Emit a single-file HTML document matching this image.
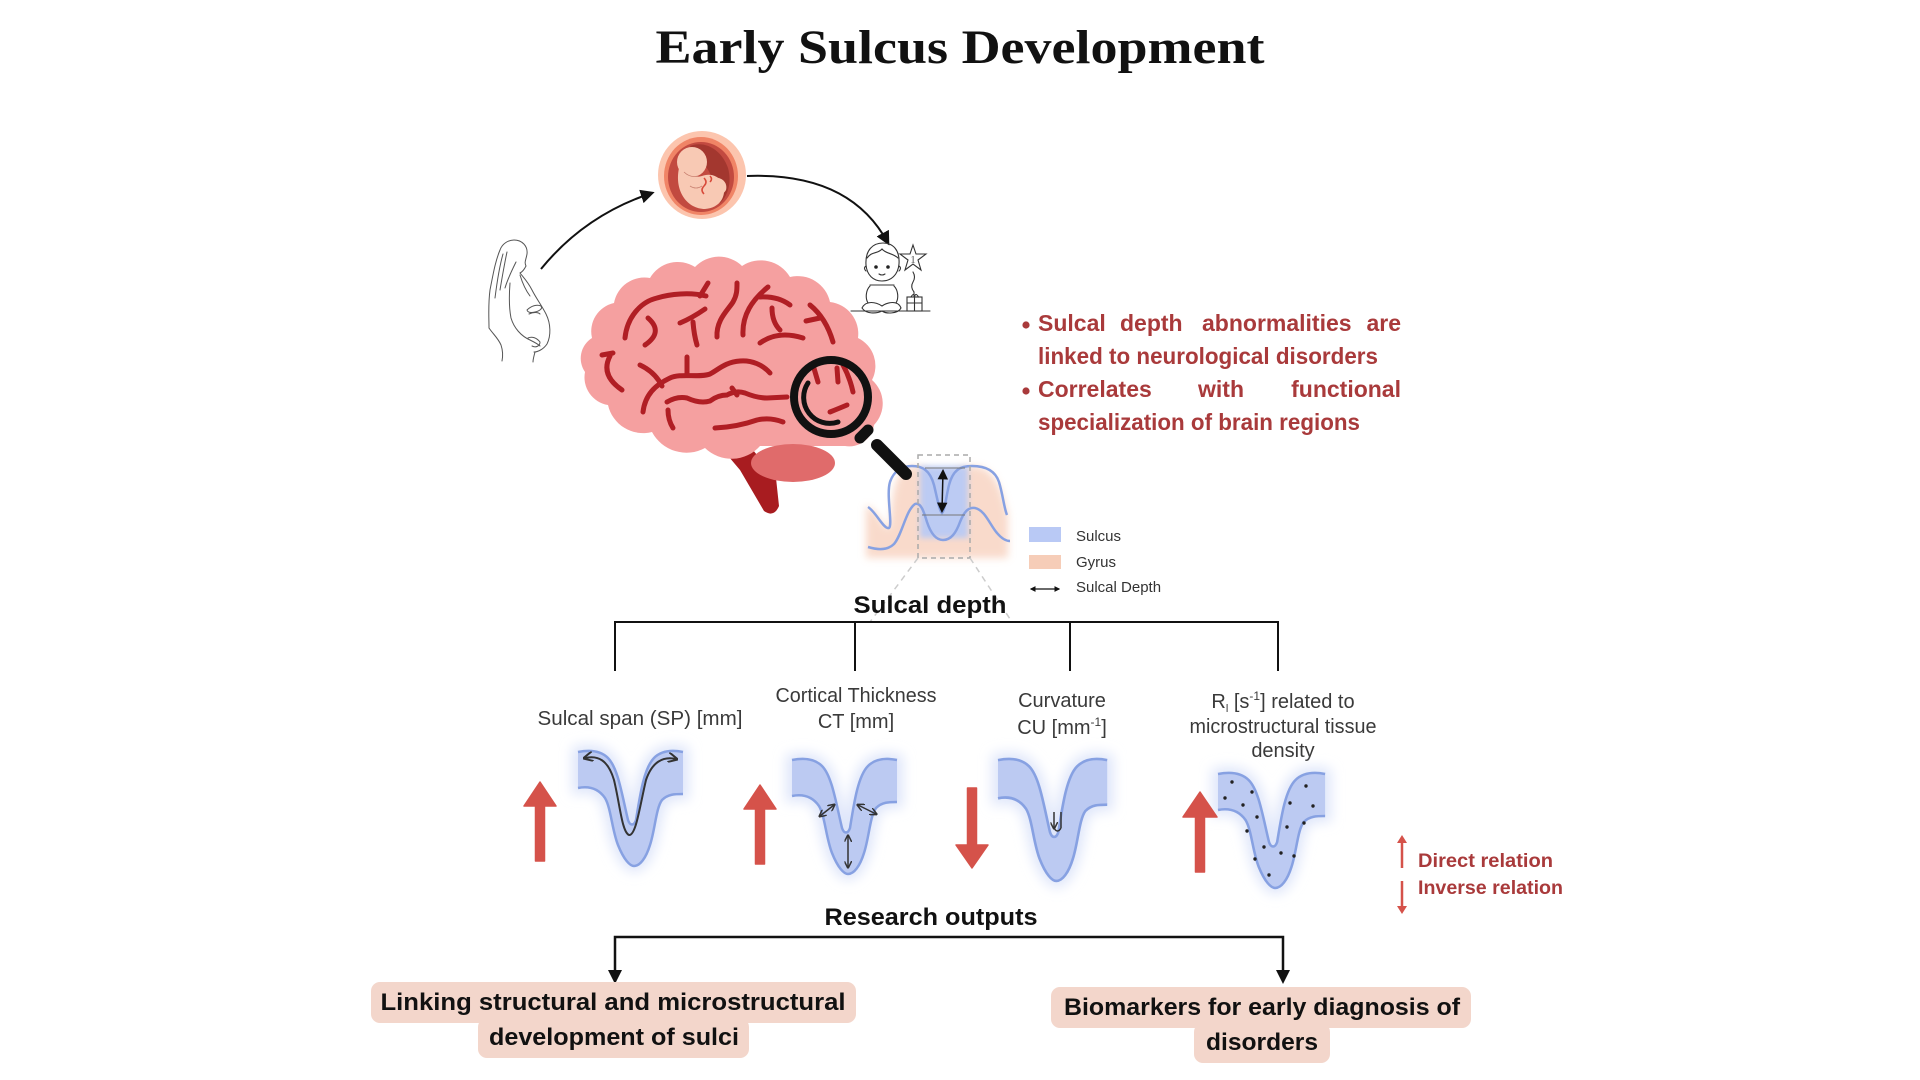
<!DOCTYPE html>
<html>
<head>
<meta charset="utf-8">
<style>
  html,body{margin:0;padding:0;background:#fff;}
  svg{display:block;}
  .lbl{font-family:"Liberation Sans",Arial,sans-serif;fill:#3a3a3a;font-size:20px;}
  .bold{font-family:"Liberation Sans",Arial,sans-serif;font-weight:bold;fill:#111;}
  .red{font-family:"Liberation Sans",Arial,sans-serif;font-weight:bold;fill:#a93a3b;}
  .lg{font-family:"Liberation Sans",Arial,sans-serif;fill:#333;font-size:15px;}
</style>
</head>
<body>
<svg width="1920" height="1080" viewBox="0 0 1920 1080" xmlns="http://www.w3.org/2000/svg">
  <defs>
    <marker id="ah" viewBox="0 0 10 10" refX="8" refY="5" markerWidth="7" markerHeight="7" orient="auto-start-reverse">
      <path d="M0,0 L10,5 L0,10 Z" fill="#111"/>
    </marker>
    <marker id="ah2" viewBox="0 0 10 10" refX="8" refY="5" markerWidth="4.5" markerHeight="4.5" orient="auto-start-reverse">
      <path d="M0,0 L10,5 L0,10 Z" fill="#111"/>
    </marker>
    <marker id="sm" viewBox="0 0 10 10" refX="8" refY="5" markerWidth="5" markerHeight="5" orient="auto-start-reverse">
      <path d="M0,0 L10,5 L0,10" fill="none" stroke="#333" stroke-width="2"/>
    </marker>
    <filter id="blur6" x="-30%" y="-30%" width="160%" height="160%"><feGaussianBlur stdDeviation="6"/></filter>
    <filter id="blur4" x="-30%" y="-30%" width="160%" height="160%"><feGaussianBlur stdDeviation="4"/></filter>
    <filter id="blur3" x="-30%" y="-30%" width="160%" height="160%"><feGaussianBlur stdDeviation="3"/></filter>
    <g id="sulc">
      <path d="M0,2 C10,0 22,0 30,8 C40,18 44,45 50,70 C52,76 56,76 58,70 C62,45 66,18 76,8 C84,0 95,0 105,2 L105,44 C97,44 90,44 84,50 C78,58 77,80 72,95 C68,108 62,116 56,116 C52,116 46,110 40,95 C34,80 33,58 27,48 C20,38 10,36 0,38 Z" fill="#dfe6fa" stroke="#dfe6fa" stroke-width="12" filter="url(#blur6)"/>
      <path d="M0,2 C10,0 22,0 30,8 C40,18 44,45 50,70 C52,76 56,76 58,70 C62,45 66,18 76,8 C84,0 95,0 105,2 L105,44 C97,44 90,44 84,50 C78,58 77,80 72,95 C68,108 62,116 56,116 C52,116 46,110 40,95 C34,80 33,58 27,48 C20,38 10,36 0,38 Z" fill="#bccaf2"/>
      <path d="M0,2 C10,0 22,0 30,8 C40,18 44,45 50,70 C52,76 56,76 58,70 C62,45 66,18 76,8 C84,0 95,0 105,2" fill="none" stroke="#87a1e2" stroke-width="2.5"/>
      <path d="M0,38 C10,36 20,38 27,48 C33,58 34,80 40,95 C46,110 52,116 56,116 C62,116 68,108 72,95 C77,80 78,58 84,50 C90,44 97,44 105,44" fill="none" stroke="#87a1e2" stroke-width="2.5"/>
    </g>
  </defs>

  <!-- Title -->
  <text x="960" y="63" text-anchor="middle" font-family="'Liberation Serif',serif" font-weight="bold" font-size="48" fill="#111" textLength="609" lengthAdjust="spacingAndGlyphs">Early Sulcus Development</text>

  <!-- Curved arrows -->
  <path d="M541,269 Q585,215 652,193" fill="none" stroke="#111" stroke-width="2" marker-end="url(#ah)"/>
  <path d="M747,176 Q850,172 888,243" fill="none" stroke="#111" stroke-width="2" marker-end="url(#ah)"/>

  <!-- Fetus -->
  <circle cx="702" cy="175" r="44" fill="#fcc5ae"/>
  <ellipse cx="701" cy="176" rx="37" ry="39" fill="#f08466"/>
  <ellipse cx="701" cy="177" rx="33" ry="35" fill="#c24a40"/>
  <path d="M690,146 C705,140 722,150 728,168 C732,182 728,196 720,203 C716,190 712,170 700,160 Z" fill="#a3372f"/>
  <circle cx="692" cy="162" r="15" fill="#f8c9b4"/>
  <path d="M679,168 C674,192 688,209 705,209 C720,208 727,196 723,184 C719,175 709,173 702,176 C696,178 689,176 684,168 Z" fill="#f8c9b4"/>
  <path d="M712,178 C721,176 728,182 726,190 C722,197 715,195 712,190 Z" fill="#f8c9b4"/>
  <path d="M704,178 q4,4 0,8 q-4,4 0,8 M710,176 q3,3 0,6" fill="none" stroke="#d84a3a" stroke-width="1.5"/>
  <path d="M684,172 q6,6 14,4 M690,186 q6,4 12,0" fill="none" stroke="#c88070" stroke-width="0.8"/>

  <!-- Pregnant woman -->
  <g fill="none" stroke="#555" stroke-width="1" stroke-linecap="round">
    <path d="M500,250 C502,244 508,240 514,240 C522,240 528,246 527,254 C526,260 524,262 526,266 C524,270 522,272 520,273"/>
    <path d="M500,250 C495,262 493,275 490,290 C488,305 489,318 489,328"/>
    <path d="M503,254 C499,268 497,282 495,298"/>
    <path d="M507,252 C504,266 502,278 500,290"/>
    <path d="M520,273 C524,278 528,282 532,290 C536,298 542,306 546,314 C551,324 551,336 547,344 C543,350 537,352 534,352"/>
    <path d="M527,310 C531,306 537,304 541,306 C543,308 540,311 535,312 C531,313 528,313 527,310"/>
    <path d="M529,314 C533,312 538,312 540,314"/>
    <path d="M510,283 C509,296 509,308 511,318 C514,328 521,336 530,340 C534,342 538,344 540,346"/>
    <path d="M528,338 C532,336 537,338 540,342 C540,346 536,348 532,346"/>
    <path d="M489,328 C493,334 498,338 501,345 C503,351 503,356 502,361"/>
    <path d="M535,352 C534,356 533,359 533,362"/>
    <path d="M516,262 C512,270 508,278 505,288"/>
    <path d="M520,275 C523,285 527,292 530,296"/>
  </g>

  <!-- Baby -->
  <g fill="none" stroke="#333" stroke-width="1.1" stroke-linecap="round">
    <path d="M866,265 C865,250 873,243 883,243 C893,243 900,250 899,264 C898,275 891,281 882,281 C873,281 867,275 866,265 Z"/>
    <path d="M867,258 C872,251 878,254 882,249 C886,254 893,253 898,258"/>
    <path d="M866,266 q-3,2 0,5 M899,266 q3,2 0,5"/>
    <path d="M879,274 q3,2 6,0"/>
    <path d="M870,286 C866,290 865,298 868,303 M894,286 C898,290 899,298 896,303 M870,285 L894,285"/>
    <path d="M862,308 C866,300 876,302 882,306 C888,302 898,300 901,308 C898,314 886,314 882,311 C876,314 866,314 862,308 Z"/>
    <path d="M851,311 L930,311"/>
    <path d="M913,245 L916,254 L926,254 L918,260 L921,270 L913,264 L905,270 L908,260 L900,254 L910,254 Z"/>
    <path d="M913,272 q3,5 0,10 q-3,5 1,10 L914,296"/>
    <rect x="907" y="297" width="15" height="14"/>
    <path d="M914.5,297 L914.5,311 M907,303 L922,303 M911,297 q3,-5 3.5,0 q1,-5 4,0"/>
  </g>
  <circle cx="876" cy="267" r="1.8" fill="#222"/>
  <circle cx="888" cy="267" r="1.8" fill="#222"/>
  <text x="913" y="263" text-anchor="middle" font-family="'Liberation Serif',serif" font-size="11" fill="#555">1</text>

  <!-- Brain -->
  <path d="M718,444 L748,444 L776,478 L779,506 Q774,518 764,511 L740,470 Z" fill="#a81c20"/>
  <path d="M585,372 A24,24 0 0 1 592,338 A29,29 0 0 1 614,303 A31,31 0 0 1 650,278 A32,32 0 0 1 695,267 A33,33 0 0 1 742,266 A34,34 0 0 1 790,277 A33,33 0 0 1 830,302 A32,32 0 0 1 858,338 A31,31 0 0 1 872,380 A31,31 0 0 1 874,425 A25,25 0 0 1 845,446 L760,446 A38,38 0 0 1 705,448 A39,39 0 0 1 652,432 A36,36 0 0 1 608,405 A28,28 0 0 1 585,372 Z" fill="#f5a0a0"/>
  <ellipse cx="793" cy="463" rx="42" ry="19" fill="#e06b6b"/>
  <g fill="none" stroke="#b01e24" stroke-width="5" stroke-linecap="round">
    <path d="M625,338 C627,318 640,302 657,298 C670,294 690,292 706,296"/>
    <path d="M700,296 L708,283"/>
    <path d="M648,318 Q664,332 645,345"/>
    <path d="M680,323 Q692,318 705,309"/>
    <path d="M693,322 Q694,335 697,345"/>
    <path d="M717,337 C716,320 728,310 733,302 C737,295 737,290 737,283"/>
    <path d="M743,335 C742,315 752,300 768,287"/>
    <path d="M760,297 Q778,296 790,305"/>
    <path d="M760,343 Q778,330 803,338"/>
    <path d="M772,308 Q772,322 780,330"/>
    <path d="M810,305 Q826,318 833,342"/>
    <path d="M806,321 L820,318"/>
    <path d="M602,355 L613,353"/>
    <path d="M610,356 Q600,375 622,390"/>
    <path d="M640,365 Q655,372 662,386"/>
    <path d="M643,412 C645,395 655,385 670,378 C680,373 700,378 710,374 C718,370 725,362 740,361 C752,360 763,365 770,373"/>
    <path d="M667,402 Q677,396 687,398 Q700,404 710,401 Q718,395 727,395 Q736,390 745,393 Q757,398 767,398 L787,397"/>
    <path d="M668,410 Q668,420 673,428"/>
    <path d="M715,428 Q737,427 757,420 Q770,417 783,422"/>
    <path d="M687,357 L687,375"/>
    <path d="M732,388 L737,395"/>
    <path d="M813,365 L818,382"/>
    <path d="M837,368 L838,382"/>
    <path d="M843,365 Q850,378 853,392"/>
    <path d="M830,412 Q840,408 847,405"/>
  </g>

  <!-- Sulcal depth diagram -->
  <path d="M866,505 C880,512 884,530 889,528 C893,510 890,470 912,466 C925,466 930,470 934,480 L950,480 C955,470 960,466 972,466 C995,466 1002,490 1008,515 L1008,558 L866,558 Z" fill="#f8d4c2" opacity="0.85" filter="url(#blur4)"/>
  <path d="M920,466 L968,466 L968,538 L920,538 Z" fill="#bccbf3" filter="url(#blur3)"/>
  <g fill="none" stroke="#87a1e2" stroke-width="2.5">
    <path d="M868,507 C876,512 884,530 889,528 C893,525 886,495 890,482 C894,470 903,466 912,466 C922,466 930,470 934,485 C937,497 939,510 942,513 C945,510 946,497 949,485 C953,470 960,466 972,466 C985,466 995,470 999,482 C1003,495 1004,508 1007,515"/>
    <path d="M868,547 C878,550 888,550 894,544 C902,535 906,510 915,504 C921,502 924,512 927,522 C931,534 936,540 943,540 C951,540 956,533 960,522 C964,512 968,507 975,508 C985,510 990,525 997,533 C1002,539 1006,541 1010,541"/>
  </g>
  <path d="M925,468 L965,468 M922,515 L965,515" stroke="#777" stroke-width="1"/>
  <path d="M943,471 L942,511" stroke="#111" stroke-width="1.5" marker-start="url(#ah)" marker-end="url(#ah)"/>
  <rect x="918" y="455" width="52" height="103" fill="none" stroke="#aaa" stroke-width="1.5" stroke-dasharray="5,4"/>
  <path d="M918,558 L870,622 M970,558 L1012,622" stroke="#ccc" stroke-width="1.5" stroke-dasharray="6,5"/>

  <!-- Magnifier -->
  <circle cx="831" cy="397" r="37" fill="none" stroke="#111" stroke-width="8"/>
  <path d="M808,383 A26,26 0 0 0 838,422" fill="none" stroke="#111" stroke-width="5" stroke-linecap="round"/>
  <path d="M860,438 L868,430" stroke="#111" stroke-width="11" stroke-linecap="round"/>
  <path d="M877,445 L906,474" stroke="#111" stroke-width="12" stroke-linecap="round"/>

  <!-- Legend -->
  <rect x="1029" y="527" width="32" height="15" fill="#b9c9f5"/>
  <text x="1076" y="541" class="lg">Sulcus</text>
  <rect x="1029" y="555" width="32" height="14" fill="#f6cdb8"/>
  <text x="1076" y="567" class="lg">Gyrus</text>
  <path d="M1031,589 L1059,589" stroke="#111" stroke-width="1.3" marker-start="url(#ah2)" marker-end="url(#ah2)"/>
  <text x="1076" y="592" class="lg">Sulcal Depth</text>

  <!-- Bullets -->
  <circle cx="1026" cy="325" r="3.6" fill="#a93a3b"/>
  <circle cx="1026" cy="391" r="3.6" fill="#a93a3b"/>
  <g class="red" font-size="23">
    <text x="1038" y="331">Sulcal</text>
    <text x="1120" y="331">depth</text>
    <text x="1202" y="331">abnormalities</text>
    <text x="1401" y="331" text-anchor="end">are</text>
    <text x="1038" y="364" textLength="340" lengthAdjust="spacingAndGlyphs">linked to neurological disorders</text>
    <text x="1038" y="397">Correlates</text>
    <text x="1198" y="397">with</text>
    <text x="1401" y="397" text-anchor="end">functional</text>
    <text x="1038" y="430" textLength="322" lengthAdjust="spacingAndGlyphs">specialization of brain regions</text>
  </g>

  <!-- Sulcal depth heading & bracket -->
  <text x="930" y="613" text-anchor="middle" class="bold" font-size="24" textLength="153" lengthAdjust="spacingAndGlyphs">Sulcal depth</text>
  <path d="M615,622 L1278,622 M615,621 L615,671 M855,622 L855,671 M1070,622 L1070,671 M1278,621 L1278,671" stroke="#111" stroke-width="2" fill="none"/>

  <!-- Measure labels -->
  <text x="640" y="725" text-anchor="middle" class="lbl" textLength="205" lengthAdjust="spacingAndGlyphs">Sulcal span (SP) [mm]</text>
  <text x="856" y="702" text-anchor="middle" class="lbl" textLength="161" lengthAdjust="spacingAndGlyphs">Cortical Thickness</text>
  <text x="856" y="728" text-anchor="middle" class="lbl">CT [mm]</text>
  <text x="1062" y="707" text-anchor="middle" class="lbl">Curvature</text>
  <text x="1062" y="734" text-anchor="middle" class="lbl">CU [mm<tspan font-size="12" dy="-8">-1</tspan><tspan dy="8">]</tspan></text>
  <text x="1283" y="708" text-anchor="middle" class="lbl">R<tspan font-size="11" dy="4">l</tspan><tspan dy="-4"> [s</tspan><tspan font-size="12" dy="-8">-1</tspan><tspan dy="8">] related to</tspan></text>
  <text x="1283" y="733" text-anchor="middle" class="lbl" textLength="187" lengthAdjust="spacingAndGlyphs">microstructural tissue</text>
  <text x="1283" y="757" text-anchor="middle" class="lbl">density</text>

  <!-- Sulcus shapes -->
  <use href="#sulc" transform="translate(578,750)"/>
  <use href="#sulc" transform="translate(792,758)"/>
  <use href="#sulc" transform="translate(998,758) scale(1.04,1.06)"/>
  <use href="#sulc" transform="translate(1218,772) scale(1.02,1)"/>

  <!-- SP curve -->
  <path d="M585,758 C598,755 608,760 614,780 C620,805 622,832 629,835 C636,836 640,805 646,780 C652,762 663,756 676,759" fill="none" stroke="#333" stroke-width="2" marker-start="url(#sm)" marker-end="url(#sm)"/>
  <!-- CT arrows -->
  <g stroke="#333" stroke-width="1.5" fill="none">
    <path d="M820,816 L834,805" marker-start="url(#sm)" marker-end="url(#sm)"/>
    <path d="M858,805 L876,814" marker-start="url(#sm)" marker-end="url(#sm)"/>
    <path d="M848,836 L848,867" marker-start="url(#sm)" marker-end="url(#sm)"/>
    <!-- CU -->
    <path d="M1054,828 L1054,812 M1061,828 L1061,812 M1054,828 Q1057.5,834 1061,828" marker-start="url(#sm)"/>
  </g>
  <!-- density dots -->
  <g fill="#222">
    <circle cx="1232" cy="782" r="1.7"/><circle cx="1252" cy="792" r="1.7"/><circle cx="1225" cy="798" r="1.7"/>
    <circle cx="1243" cy="805" r="1.7"/><circle cx="1257" cy="817" r="1.7"/><circle cx="1247" cy="831" r="1.7"/>
    <circle cx="1264" cy="847" r="1.7"/><circle cx="1255" cy="859" r="1.7"/><circle cx="1281" cy="853" r="1.7"/>
    <circle cx="1294" cy="856" r="1.7"/><circle cx="1269" cy="875" r="1.7"/><circle cx="1287" cy="827" r="1.7"/>
    <circle cx="1304" cy="823" r="1.7"/><circle cx="1290" cy="803" r="1.7"/><circle cx="1313" cy="806" r="1.7"/>
    <circle cx="1306" cy="786" r="1.7"/>
  </g>

  <!-- Red arrows -->
  <g fill="#d5524a" stroke="#d5524a" stroke-width="1.5" stroke-linejoin="round">
    <polygon points="540,782 556,806 544.5,806 544.5,861 535.5,861 535.5,806 524,806"/>
    <polygon points="760,785 776,809 764.5,809 764.5,864 755.5,864 755.5,809 744,809"/>
    <polygon points="967.5,788 976.5,788 976.5,845 988,845 972,868 956,845 967.5,845"/>
    <polygon points="1200,792 1217,817 1204.5,817 1204.5,872 1195.5,872 1195.5,817 1183,817"/>
  </g>

  <!-- Relation legend -->
  <path d="M1402,868 L1402,840 M1402,881 L1402,909" stroke="#d5524a" stroke-width="2.5"/>
  <polygon points="1397,843 1407,843 1402,835" fill="#d5524a"/>
  <polygon points="1397,906 1407,906 1402,914" fill="#d5524a"/>
  <text x="1418" y="867" class="red" font-size="19.5" textLength="135" lengthAdjust="spacingAndGlyphs">Direct relation</text>
  <text x="1418" y="894" class="red" font-size="19.5" textLength="145" lengthAdjust="spacingAndGlyphs">Inverse relation</text>

  <!-- Research outputs -->
  <text x="931" y="925" text-anchor="middle" class="bold" font-size="24" textLength="213" lengthAdjust="spacingAndGlyphs">Research outputs</text>
  <path d="M615,972 L615,937 L1283,937 L1283,972" stroke="#111" stroke-width="2.5" fill="none"/>
  <polygon points="608,970 622,970 615,984" fill="#111"/>
  <polygon points="1276,970 1290,970 1283,984" fill="#111"/>

  <!-- Output boxes -->
  <rect x="371" y="982" width="485" height="41" rx="9" fill="#f3d6cb"/>
  <rect x="478" y="1018" width="271" height="40" rx="9" fill="#f3d6cb"/>
  <text x="613" y="1010" text-anchor="middle" class="bold" font-size="24" textLength="465" lengthAdjust="spacingAndGlyphs">Linking structural and microstructural</text>
  <text x="614" y="1045" text-anchor="middle" class="bold" font-size="24" textLength="250" lengthAdjust="spacingAndGlyphs">development of sulci</text>

  <rect x="1051" y="987" width="420" height="41" rx="9" fill="#f3d6cb"/>
  <rect x="1194" y="1023" width="136" height="40" rx="9" fill="#f3d6cb"/>
  <text x="1262" y="1015" text-anchor="middle" class="bold" font-size="24" textLength="396" lengthAdjust="spacingAndGlyphs">Biomarkers for early diagnosis of</text>
  <text x="1262" y="1050" text-anchor="middle" class="bold" font-size="24" textLength="112" lengthAdjust="spacingAndGlyphs">disorders</text>
</svg>
</body>
</html>
